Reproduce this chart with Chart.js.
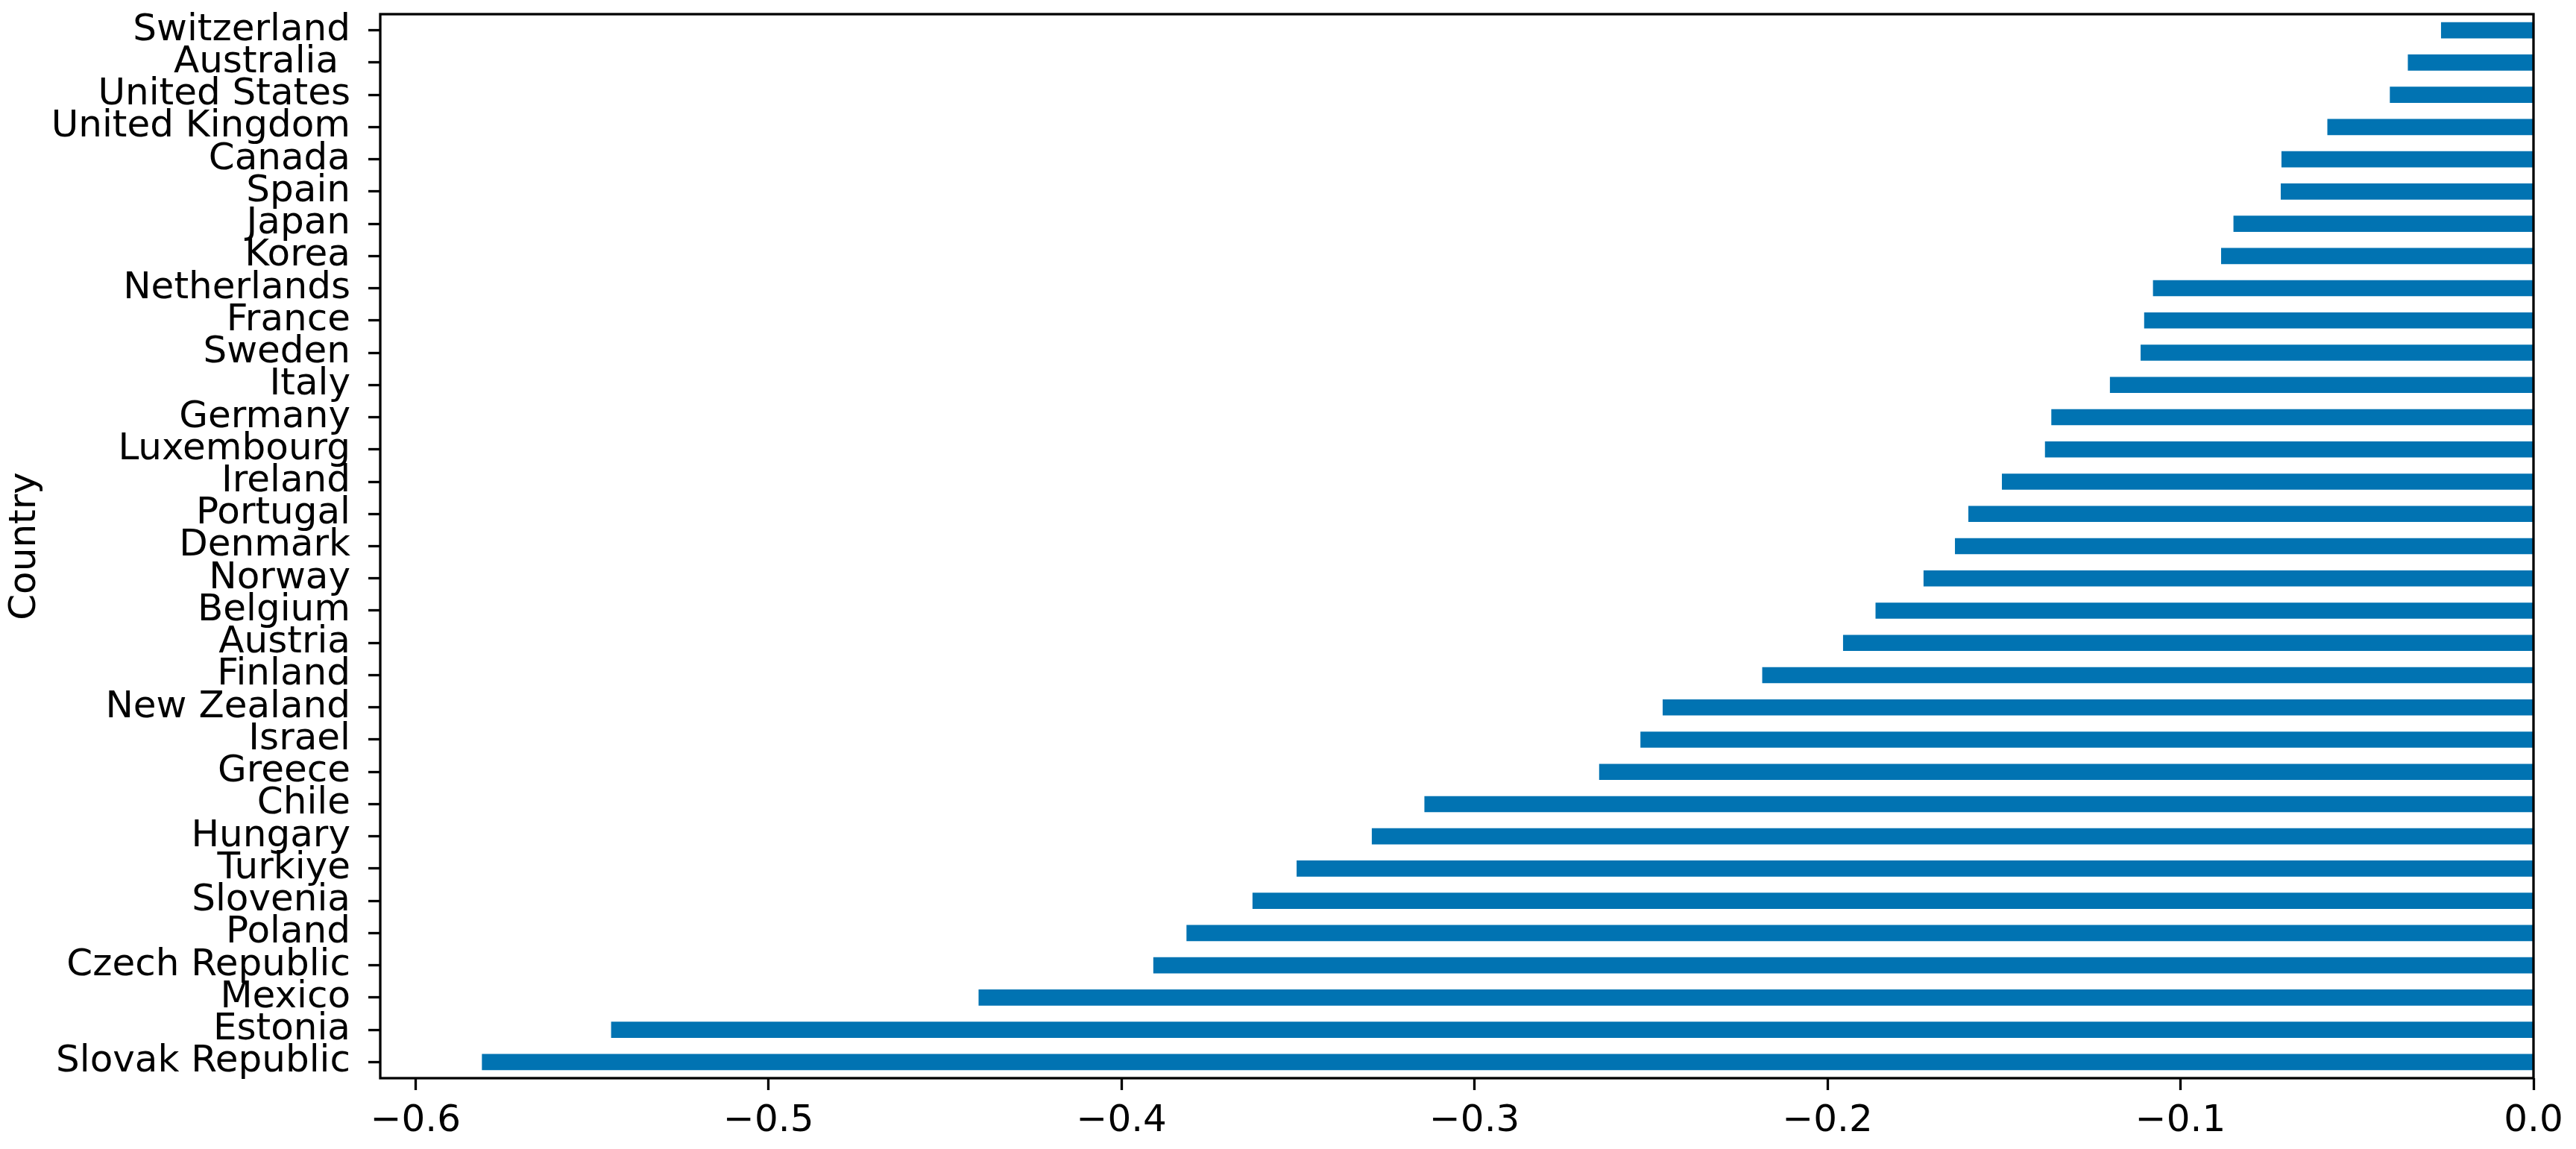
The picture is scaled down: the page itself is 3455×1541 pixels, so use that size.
<!DOCTYPE html>
<html>
<head>
<meta charset="utf-8">
<title>Country</title>
<script src="https://cdn.jsdelivr.net/npm/chart.js@4.4.1/dist/chart.umd.min.js"></script>
<style>
  html, body { margin: 0; padding: 0; background: #fff; }
  canvas { display: block; }
</style>
</head>
<body>
<canvas id="chart" width="3455" height="1541"></canvas>
<script>
/* ── Data ── */
const countries = [
  "Switzerland", "Australia ", "United States", "United Kingdom", "Canada",
  "Spain", "Japan", "Korea", "Netherlands", "France", "Sweden", "Italy",
  "Germany", "Luxembourg", "Ireland", "Portugal", "Denmark", "Norway",
  "Belgium", "Austria", "Finland", "New Zealand", "Israel", "Greece",
  "Chile", "Hungary", "Turkiye", "Slovenia", "Poland", "Czech Republic",
  "Mexico", "Estonia", "Slovak Republic",
];

const values = [
  -0.0262, -0.0356, -0.0407, -0.0584, -0.0714,
  -0.0716, -0.0850, -0.0885, -0.1078, -0.1103, -0.1113, -0.1200,
  -0.1366, -0.1384, -0.1506, -0.1601, -0.1639, -0.1728,
  -0.1864, -0.1956, -0.2185, -0.2467, -0.2530, -0.2647,
  -0.3142, -0.3291, -0.3504, -0.3629, -0.3816, -0.3910,
  -0.4405, -0.5446, -0.5812,
];

const xTicks = [-0.6, -0.5, -0.4, -0.3, -0.2, -0.1, 0.0];
const xMin = -0.61;
const xMax = 0;

// ── Style ───────────────────────────────────────────────────────────────────
const BAR_COLOR = "#0173b2";
const LINE_W = 3.3;
const FONT = { family: "'DejaVu Sans', sans-serif", size: 50 };

Chart.defaults.color = "#000";
Chart.defaults.font.family = FONT.family;

function fmtTick(v) {
  const s = Math.abs(v).toFixed(1);
  return v < -1e-9 ? "\u2212" + s : s;
}

// spines on all four sides, like the matplotlib box
const framePlugin = {
  id: "frame",
  afterDatasetsDraw(chart) {
    const { ctx, chartArea: a } = chart;
    ctx.save();
    ctx.strokeStyle = "#000";
    ctx.lineWidth = LINE_W;
    ctx.strokeRect(a.left, a.top, a.right - a.left, a.bottom - a.top);
    ctx.restore();
  },
};

// ── Chart ───────────────────────────────────────────────────────────────────
new Chart(document.getElementById("chart").getContext("2d"), {
  type: "bar",
  data: {
    labels: countries,
    datasets: [{
      data: values,
      backgroundColor: BAR_COLOR,
      borderWidth: 0,
      barPercentage: 0.5,
      categoryPercentage: 1.0,
    }],
  },
  options: {
    indexAxis: "y",
    responsive: false,
    animation: false,
    devicePixelRatio: 1,
    layout: { padding: { left: 0, right: 57, top: 19, bottom: 0 } },
    plugins: {
      legend: { display: false },
      tooltip: { enabled: false },
    },
    scales: {
      x: {
        type: "linear",
        min: xMin,
        max: xMax,
        afterBuildTicks: (scale) => {
          scale.ticks = xTicks.map((v) => ({ value: v }));
        },
        afterFit: (scale) => {
          scale.height = 95;
          scale.paddingLeft = 0;
          scale.paddingRight = 0;
        },
        border: { display: false },
        grid: {
          drawOnChartArea: false,
          drawTicks: true,
          tickLength: 16,
          tickWidth: LINE_W,
          tickColor: "#000",
        },
        ticks: {
          font: FONT,
          padding: 12,
          maxRotation: 0,
          autoSkip: false,
          callback: (v) => fmtTick(v),
        },
      },
      y: {
        type: "category",
        offset: true,
        afterFit: (scale) => {
          scale.width = 510;
          scale.paddingTop = 0;
          scale.paddingBottom = 0;
        },
        border: { display: false },
        grid: {
          offset: false,
          drawOnChartArea: false,
          drawTicks: true,
          tickLength: 16,
          tickWidth: LINE_W,
          tickColor: "#000",
        },
        ticks: {
          font: FONT,
          padding: 24,
          autoSkip: false,
        },
        title: {
          display: true,
          text: "Country",
          font: FONT,
          padding: { top: 4, bottom: 0 },
        },
      },
    },
  },
  plugins: [framePlugin],
});
</script>
</body>
</html>
